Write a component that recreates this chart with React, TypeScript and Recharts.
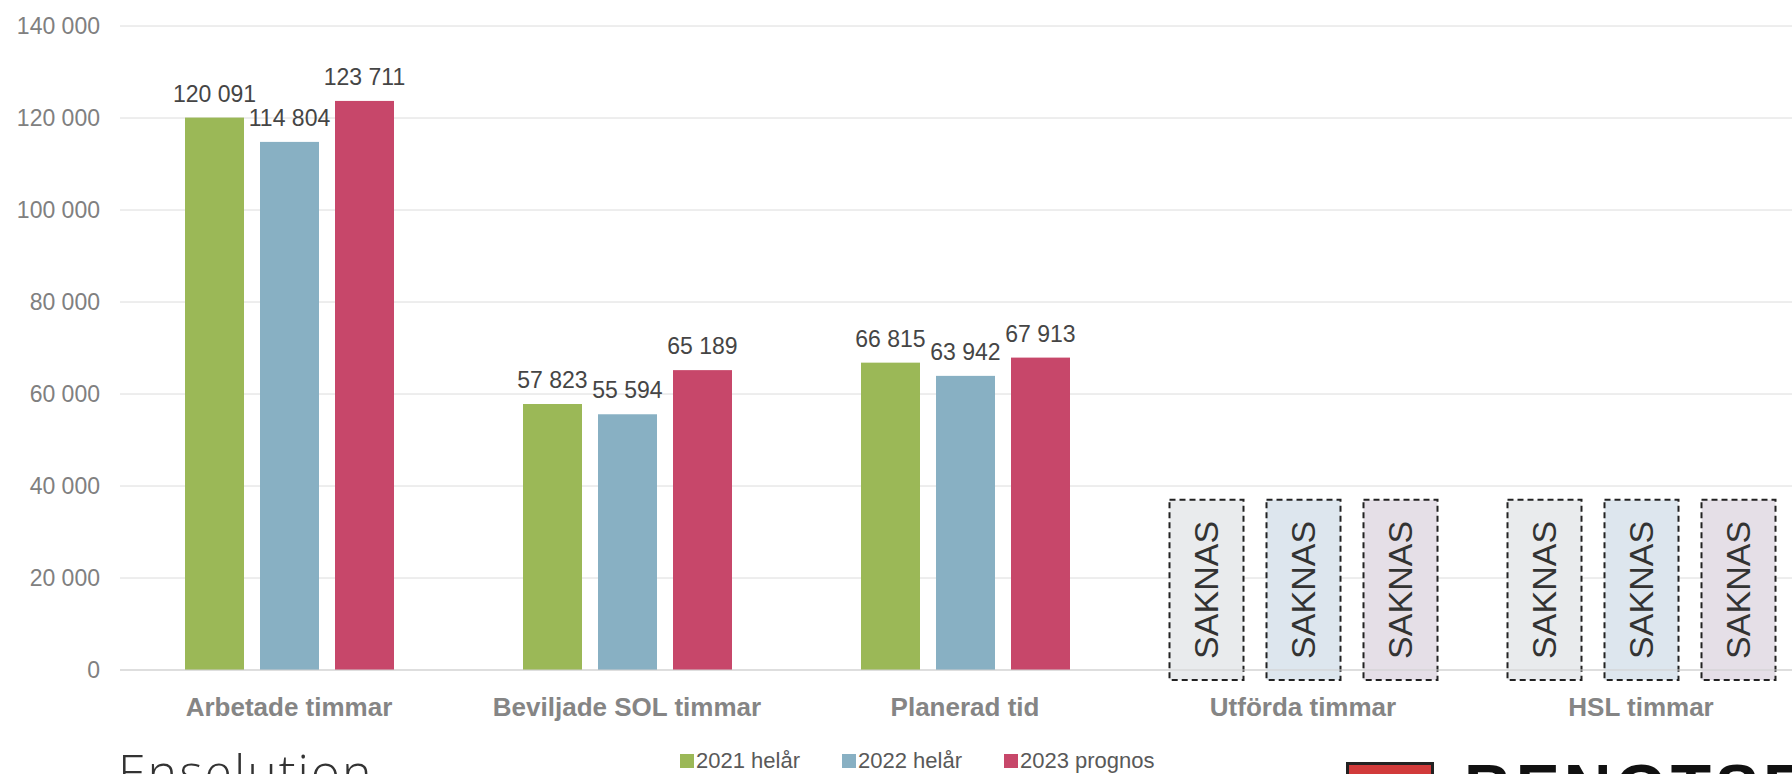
import React from 'react';
import { BarChart, Bar, XAxis, YAxis, CartesianGrid, LabelList } from 'recharts';

const categories = ['Arbetade timmar', 'Beviljade SOL timmar', 'Planerad tid', 'Utförda timmar', 'HSL timmar'];
const hours2021 = [120091, 57823, 66815, null, null];
const hours2022 = [114804, 55594, 63942, null, null];
const hours2023 = [123711, 65189, 67913, null, null];
// height of the "SAKNAS" placeholder boxes, in axis units
const missingHeight = 37000;
const yTicks = [0, 20000, 40000, 60000, 80000, 100000, 120000, 140000];

const series = [
  { key: 's2021', name: '2021 helår', values: hours2021, color: '#9bb857', missingFill: '#e9ebed' },
  { key: 's2022', name: '2022 helår', values: hours2022, color: '#88b0c3', missingFill: '#dde6ee' },
  { key: 's2023', name: '2023 prognos', values: hours2023, color: '#c7476a', missingFill: '#e5dfe7' },
];

const fmt = (v: number) => String(v).replace(/\B(?=(\d{3})+(?!\d))/g, ' ');

const data = categories.map((name, i) => {
  const row: any = { name };
  series.forEach((s) => {
    const v = s.values[i];
    row[s.key] = v == null ? missingHeight : v;
    row[s.key + 'Missing'] = v == null;
    row[s.key + 'Label'] = v == null ? undefined : fmt(v);
  });
  return row;
});

const BAR_PITCH = 75;
const BOX_PITCH = 97;
const BOX_WIDTH = 74;

function makeShape(si: number, key: string, fill: string, missingFill: string) {
  return (props: any) => {
    const { x, y, width, height, payload } = props;
    if (!payload[key + 'Missing']) {
      return <rect x={x} y={y} width={width} height={height} fill={fill} />;
    }
    const cx = x + width / 2 + (si - 1) * (BOX_PITCH - BAR_PITCH);
    const bx = cx - BOX_WIDTH / 2;
    const bh = height + 10;
    return (
      <g>
        <rect x={bx} y={y} width={BOX_WIDTH} height={bh} fill={missingFill} stroke="#222" strokeWidth={2} strokeDasharray="6 4" />
        <text
          x={cx}
          y={y + bh / 2}
          transform={`rotate(-90 ${cx} ${y + bh / 2})`}
          textAnchor="middle"
          dominantBaseline="central"
          fontSize={34}
          fill="#333"
          fontFamily="Liberation Sans, Arial, sans-serif"
        >
          SAKNAS
        </text>
      </g>
    );
  };
}

export default function App() {
  return (
    <div style={{ position: 'absolute', left: 0, top: 0, width: 1792, height: 774, overflow: 'hidden', background: '#fff', fontFamily: 'Liberation Sans, Arial, sans-serif' }}>
      <BarChart
        width={1840}
        height={730}
        data={data}
        margin={{ top: 26, right: 0, bottom: 0, left: 0 }}
        barSize={59}
        barGap={16}
      >
        <CartesianGrid vertical={false} stroke="#dcdcdc" />
        <XAxis
          dataKey="name"
          height={60}
          padding={{ left: 0, right: 30 }}
          axisLine={{ stroke: '#cfcfcf' }}
          tickLine={false}
          tickSize={6}
          tickMargin={22}
          interval={0}
          tick={{ fill: '#858585', fontSize: 26, fontWeight: 'bold' }}
        />
        <YAxis
          width={120}
          domain={[0, 140000]}
          ticks={yTicks}
          interval={0}
          axisLine={false}
          tickLine={false}
          tickSize={6}
          tickMargin={14}
          tickFormatter={(v: number) => fmt(v)}
          tick={{ fill: '#808080', fontSize: 23 }}
        />
        {series.map((s, si) => (
          <Bar
            key={s.key}
            dataKey={s.key}
            name={s.name}
            fill={s.color}
            isAnimationActive={false}
            shape={makeShape(si, s.key, s.color, s.missingFill)}
          >
            <LabelList dataKey={s.key + 'Label'} position="top" offset={16} fill="#454545" fontSize={23} />
          </Bar>
        ))}
      </BarChart>
      <div style={{ position: 'absolute', left: 680, top: 748, display: 'flex', fontSize: 22, color: '#595959', whiteSpace: 'nowrap' }}>
        {series.map((s) => (
          <div key={s.key} style={{ display: 'flex', alignItems: 'center', marginRight: 42 }}>
            <span style={{ display: 'inline-block', width: 14, height: 14, background: s.color, marginRight: 2 }} />
            <span>{s.name}</span>
          </div>
        ))}
      </div>
      <div style={{ position: 'absolute', left: 118, top: 738, fontSize: 50, color: '#333', fontFamily: 'Open Sans, sans-serif', fontWeight: 300, letterSpacing: 2 }}>
        Enselution
      </div>
      <div style={{ position: 'absolute', left: 1346, top: 762, width: 82, height: 30, background: '#d13a3a', border: '3px solid #222' }} />
      <div style={{ position: 'absolute', left: 1464, top: 750, fontSize: 66, fontWeight: 'bold', color: '#111', letterSpacing: 4 }}>
        BENGTSFORS
      </div>
    </div>
  );
}
